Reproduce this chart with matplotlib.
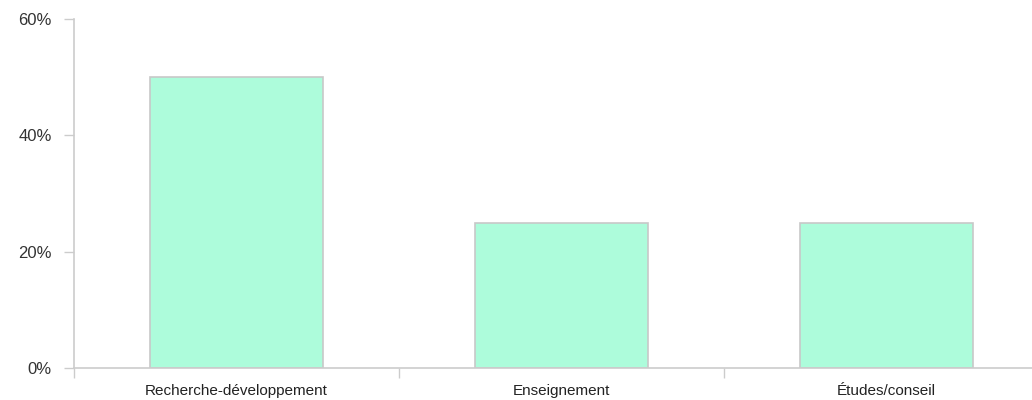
import matplotlib.pyplot as plt
from matplotlib.ticker import FuncFormatter, FixedLocator

plt.rcParams['font.family'] = ['Liberation Sans', 'DejaVu Sans']

# Data
categories = ["Recherche-développement", "Enseignement", "Études/conseil"]
shares = [50, 25, 25]
y_ticks = [0, 20, 40, 60]

BAR_COLOR = "#adfcdb"
EDGE_COLOR = "#c8c8c8"
AXIS_COLOR = "#cccccc"
TEXT_COLOR = "#333333"

fig = plt.figure(figsize=(10.32, 4.0), dpi=100)
# axes run past the right edge of the figure, like the original
ax = fig.add_axes([74 / 1032, 32 / 400, 975 / 1032, 349 / 400])

x = list(range(len(categories)))
ax.bar(x, shares, width=0.53, color=BAR_COLOR, edgecolor=EDGE_COLOR, linewidth=1.2)

ax.set_xlim(-0.5, len(categories) - 0.5)
ax.set_ylim(0, 60)

ax.set_yticks(y_ticks)
ax.yaxis.set_major_formatter(FuncFormatter(lambda v, _: f"{v:.0f}%"))
ax.tick_params(axis="y", length=7, width=1, color=AXIS_COLOR, pad=9,
               labelsize=12, labelcolor=TEXT_COLOR)

ax.set_xticks(x)
ax.set_xticklabels(categories)
ax.xaxis.set_minor_locator(FixedLocator([i - 0.5 for i in range(len(categories) + 1)]))
ax.tick_params(axis="x", which="major", length=0, pad=11.5, labelsize=11,
               labelcolor="#222222")
ax.tick_params(axis="x", which="minor", length=7, width=1, color=AXIS_COLOR)

for side in ["top", "right"]:
    ax.spines[side].set_visible(False)
for side in ["left", "bottom"]:
    ax.spines[side].set_color(AXIS_COLOR)
    ax.spines[side].set_linewidth(1.2)

fig.savefig("out.png", dpi=100)
